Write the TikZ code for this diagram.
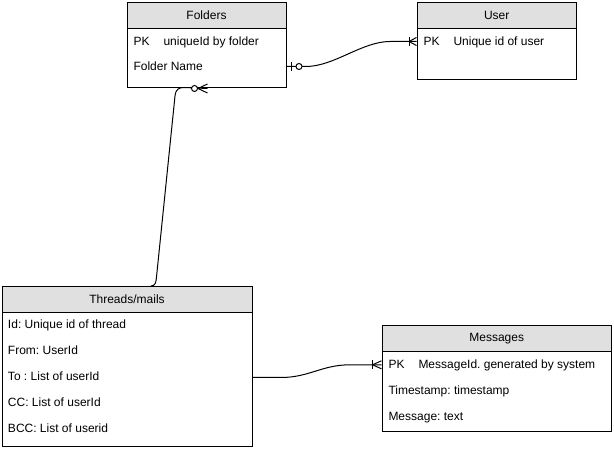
\documentclass[tikz,border=0pt]{standalone}
\usepackage{fontspec}
\setmainfont{Liberation Sans}
\definecolor{hdrgray}{RGB}{224,224,224}
\frenchspacing
\begin{document}
\begin{tikzpicture}[x=1pt,y=-1pt,
  font=\fontsize{12}{14}\selectfont,
  line width=1pt,
  hdr/.style={draw=black, fill=hdrgray, inner sep=0pt, anchor=north west},
  bodybox/.style={draw=black, fill=white, inner sep=0pt, anchor=north west},
  fld/.style={anchor=base west, inner sep=0pt},
  rel/.style={draw=black, line width=1pt},
  ring/.style={draw=black, fill=white, line width=1pt}
]
\useasboundingbox (0,0) rectangle (614,449);

% ---------- Folders ----------
\node[hdr, minimum width=159pt, minimum height=26pt] (folders) at (126.5,2) {Folders};
\node[bodybox, minimum width=159pt, minimum height=59pt] (folders-b) at (126.5,28) {};
\node[fld] (f-pk)   at (133,45.3) {PK};
\node[fld] (f-id)   at (163,45.3) {uniqueId by folder};
\node[fld] (f-name) at (133,70.3) {Folder Name};

% ---------- User ----------
\node[hdr, minimum width=159.5pt, minimum height=26pt] (user) at (416.5,2) {User};
\node[bodybox, minimum width=159.5pt, minimum height=51.5pt] (user-b) at (416.5,28) {};
\node[fld] (u-pk) at (423,45.3) {PK};
\node[fld] (u-id) at (453,45.3) {Unique id of user};

% ---------- Threads/mails ----------
\node[hdr, minimum width=250pt, minimum height=26pt] (threads) at (1.5,286) {Threads/mails};
\node[bodybox, minimum width=250pt, minimum height=134pt] (threads-b) at (1.5,312) {};
\node[fld] (t-id)   at (7.5,328.6) {Id: Unique id of thread};
\node[fld] (t-from) at (7.5,354.8) {From: UserId};
\node[fld] (t-to)   at (7.5,380.8) {To : List of userId};
\node[fld] (t-cc)   at (7.5,406.8) {CC: List of userId};
\node[fld] (t-bcc)  at (7.5,432.6) {BCC: List of userid};

% ---------- Messages ----------
\node[hdr, minimum width=229.5pt, minimum height=26pt] (messages) at (381.5,325.5) {Messages};
\node[bodybox, minimum width=229.5pt, minimum height=79.5pt] (messages-b) at (381.5,351.5) {};
\node[fld] (m-pk)   at (388,368.6) {PK};
\node[fld] (m-id)   at (418,368.6) {MessageId. generated by system};
\node[fld] (m-ts)   at (388,394.8) {Timestamp: timestamp};
\node[fld] (m-text) at (388,420.8) {Message: text};

% ---------- connection points ----------
\coordinate (fu-s) at ([yshift=-8.5pt]folders-b.east);
\coordinate (fu-e) at ([yshift=12.75pt]user-b.west);
\coordinate (tm-s) at ([yshift=2pt]threads-b.east);
\coordinate (tm-e) at ([yshift=26.95pt]messages-b.west);
\coordinate (tf-s) at ([xshift=149.5pt]threads.north west);
\coordinate (tf-e) at ([xshift=1pt,yshift=-0.5pt]folders-b.south);

% Folders -- User : zero-or-one  to  one-or-many
\draw[rel] (fu-s) -- ++(19.5,0) .. controls +(28,0) and +(-28,0) .. ([xshift=-26.5pt]fu-e) -- (fu-e);
\draw[rel] ([xshift=4.5pt,yshift=4.5pt]fu-s) -- ([xshift=4.5pt,yshift=-4.5pt]fu-s);
\draw[ring] ([xshift=12.5pt]fu-s) circle (3pt);
\draw[rel] ([xshift=-7.5pt,yshift=4.5pt]fu-e) -- ([xshift=-7.5pt,yshift=-4.5pt]fu-e);
\draw[rel] ([xshift=-7.5pt]fu-e) -- ([yshift=4pt]fu-e)
           ([xshift=-7.5pt]fu-e) -- ([yshift=-4pt]fu-e);

% Threads/mails -- Messages : to one-or-many
\draw[rel] (tm-s) -- ++(28.5,0) .. controls +(28,0) and +(-28,0) .. ([xshift=-31.5pt]tm-e) -- (tm-e);
\draw[rel] ([xshift=-9pt,yshift=4.5pt]tm-e) -- ([xshift=-9pt,yshift=-4.5pt]tm-e);
\draw[rel] ([xshift=-9pt]tm-e) -- ([yshift=4pt]tm-e)
           ([xshift=-9pt]tm-e) -- ([yshift=-4pt]tm-e);

% Threads/mails -- Folders : zero-or-many
\draw[rel] (tf-s) .. controls +(4.5,0) and +(-0.5,5) .. ++(5.5,-9)
           -- ++(18.5,-181) .. controls +(0.8,-7) and +(-5,0) .. ++(9,-8.5)
           -- (tf-e);
\draw[ring] ([xshift=-13pt]tf-e) circle (3pt);
\draw[rel] ([xshift=-9.5pt]tf-e) -- ([yshift=4.5pt]tf-e)
           ([xshift=-9.5pt]tf-e) -- ([yshift=-4.5pt]tf-e);

\end{tikzpicture}
\end{document}
